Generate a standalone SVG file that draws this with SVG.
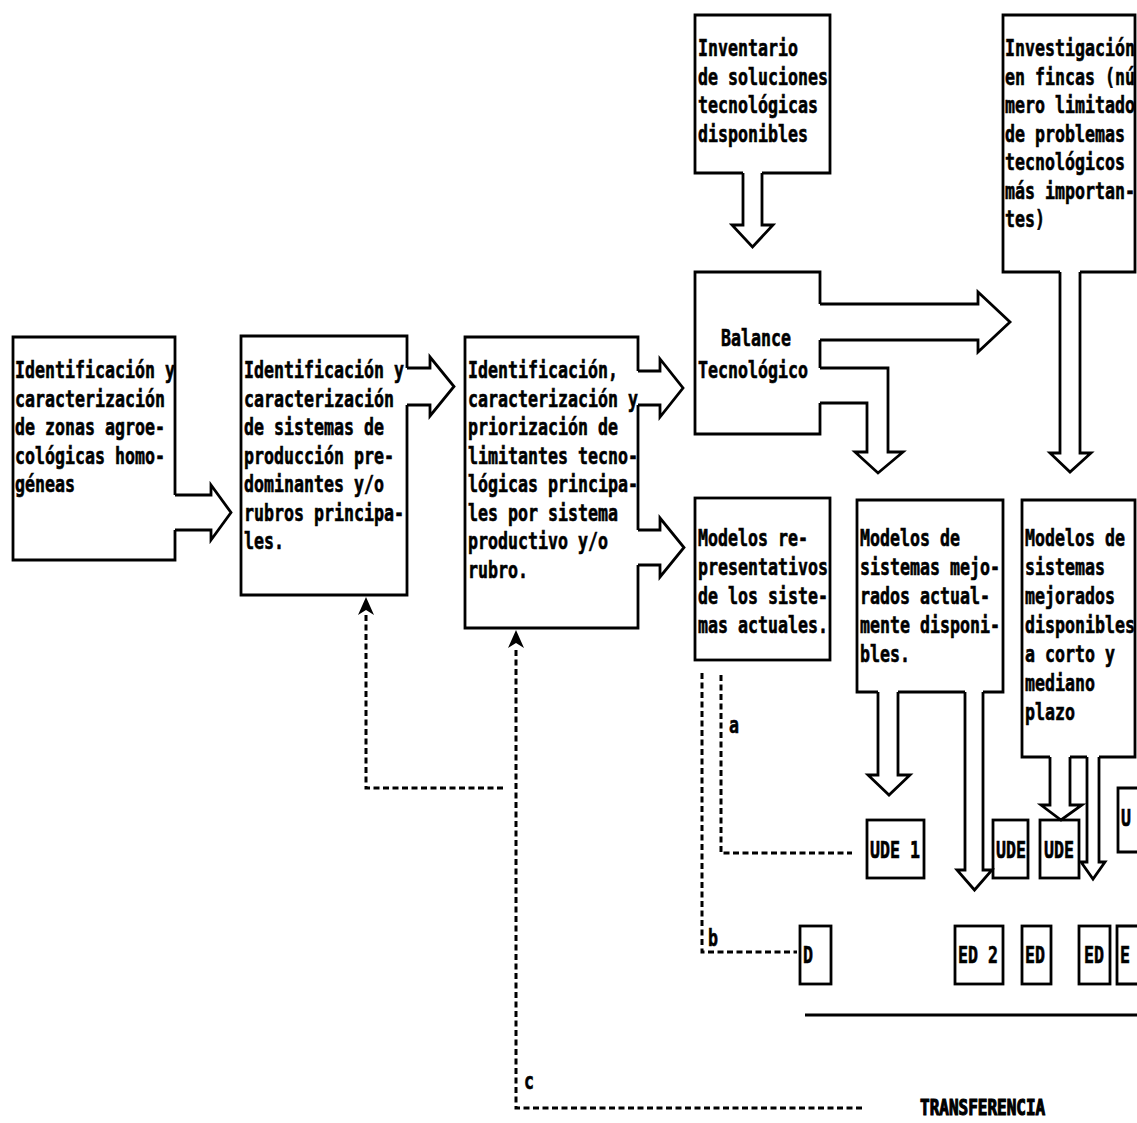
<svg xmlns="http://www.w3.org/2000/svg" width="1137" height="1123" viewBox="0 0 1137 1123">
  <style>
    .box { fill: none; stroke: #000; stroke-width: 2.8; stroke-linejoin: miter; }
    .blk { fill: none; stroke: #000; stroke-width: 2.8; stroke-linejoin: miter; }
    .dash { fill: none; stroke: #000; stroke-width: 3; stroke-dasharray: 6 3.5; }
    .rule { fill: none; stroke: #000; stroke-width: 3; }
    .tip { fill: #000; stroke: none; }
    /* tall, narrow printer-style lettering: 10px per character, stretched upward from the baseline */
    text {
      font-family: "DejaVu Sans Mono", "Liberation Mono", monospace;
      font-weight: bold; font-size: 16.6px; fill: #000;
      stroke: #000; stroke-width: 0.45;
      transform-box: fill-box; transform-origin: 0 76%; transform: scaleY(1.35);
    }
    .cap { font-size: 16px; stroke-width: 0.9; }
  </style>
  <rect width="1137" height="1123" fill="#fff"/>

  <!-- zonas agroecológicas -->
  <g id="zonas">
    <path class="box" d="M175,495 V337 H13 V560 H175 V530"/>
    <text x="15" y="378">Identificación y</text>
    <text x="15" y="406.5">caracterización</text>
    <text x="15" y="435">de zonas agroe-</text>
    <text x="15" y="463.5">cológicas homo-</text>
    <text x="15" y="492">géneas</text>
  </g>

  <!-- sistemas de producción -->
  <g id="sistemas">
    <path class="box" d="M407,368 V336 H241 V595 H407 V405"/>
    <text x="244" y="378">Identificación y</text>
    <text x="244" y="406.5">caracterización</text>
    <text x="244" y="435">de sistemas de</text>
    <text x="244" y="463.5">producción pre-</text>
    <text x="244" y="492">dominantes y/o</text>
    <text x="244" y="520.5">rubros principa-</text>
    <text x="244" y="549">les.</text>
  </g>

  <!-- limitantes tecnológicas -->
  <g id="limitantes">
    <path class="box" d="M638,371 V337 H465 V628 H638 V565 M638,405 V530"/>
    <text x="468" y="378">Identificación,</text>
    <text x="468" y="406.5">caracterización y</text>
    <text x="468" y="435">priorización de</text>
    <text x="468" y="463.5">limitantes tecno-</text>
    <text x="468" y="492">lógicas principa-</text>
    <text x="468" y="520.5">les por sistema</text>
    <text x="468" y="549">productivo y/o</text>
    <text x="468" y="577.5">rubro.</text>
  </g>

  <!-- inventario de soluciones -->
  <g id="inventario">
    <path class="box" d="M743,173 H695 V15 H830 V173 H762"/>
    <text x="698" y="56">Inventario</text>
    <text x="698" y="84.5">de soluciones</text>
    <text x="698" y="113">tecnológicas</text>
    <text x="698" y="141.5">disponibles</text>
  </g>

  <!-- investigación en fincas -->
  <g id="investigacion">
    <path class="box" d="M1060,272 H1003 V15 H1135 V272 H1080"/>
    <text x="1005" y="56">Investigación</text>
    <text x="1005" y="84.5">en fincas (nú</text>
    <text x="1005" y="113">mero limitado</text>
    <text x="1005" y="141.5">de problemas</text>
    <text x="1005" y="170">tecnológicos</text>
    <text x="1005" y="198.5">más importan-</text>
    <text x="1005" y="227">tes)</text>
  </g>

  <!-- balance tecnológico -->
  <g id="balance">
    <path class="box" d="M820,304 V272 H695 V434 H820 V403 M820,340 V368"/>
    <text x="721" y="346">Balance</text>
    <text x="698" y="378">Tecnológico</text>
  </g>

  <!-- modelos representativos -->
  <g id="modelos-actuales">
    <rect class="box" x="695" y="498" width="135" height="162"/>
    <text x="698" y="546">Modelos re-</text>
    <text x="698" y="575">presentativos</text>
    <text x="698" y="604">de los siste-</text>
    <text x="698" y="633">mas actuales.</text>
  </g>

  <!-- modelos mejorados disponibles -->
  <g id="modelos-disponibles">
    <path class="box" d="M878,692 H857 V500 H1003 V692 H983 M898,692 H965"/>
    <text x="860" y="546">Modelos de</text>
    <text x="860" y="575">sistemas mejo-</text>
    <text x="860" y="604">rados actual-</text>
    <text x="860" y="633">mente disponi-</text>
    <text x="860" y="662">bles.</text>
  </g>

  <!-- modelos mejorados a corto y mediano plazo -->
  <g id="modelos-plazo">
    <path class="box" d="M1050,757 H1022 V500 H1135 V757 H1099 M1070,757 H1087"/>
    <text x="1025" y="546">Modelos de</text>
    <text x="1025" y="575">sistemas</text>
    <text x="1025" y="604">mejorados</text>
    <text x="1025" y="633">disponibles</text>
    <text x="1025" y="662">a corto y</text>
    <text x="1025" y="691">mediano</text>
    <text x="1025" y="720">plazo</text>
  </g>

  <!-- UDE row -->
  <g id="ude-1">
    <rect class="box" x="867" y="820" width="57" height="58"/>
    <text x="870" y="858">UDE 1</text>
  </g>
  <g id="ude-2">
    <rect class="box" x="993" y="820" width="35" height="58"/>
    <text x="996" y="858">UDE</text>
  </g>
  <g id="ude-3">
    <rect class="box" x="1040" y="820" width="39" height="58"/>
    <text x="1044" y="858">UDE</text>
  </g>
  <g id="ude-4">
    <path class="box" d="M1140,788 H1118 V852 H1140"/>
    <text x="1121" y="826">U</text>
  </g>

  <!-- ED row -->
  <g id="ed-1">
    <rect class="box" x="800" y="926" width="31" height="58"/>
    <text x="803" y="963">D</text>
  </g>
  <g id="ed-2">
    <rect class="box" x="955" y="926" width="48" height="58"/>
    <text x="958" y="963">ED 2</text>
  </g>
  <g id="ed-3">
    <rect class="box" x="1022" y="926" width="29" height="58"/>
    <text x="1025" y="963">ED</text>
  </g>
  <g id="ed-4">
    <rect class="box" x="1079" y="926" width="31" height="58"/>
    <text x="1084" y="963">ED</text>
  </g>
  <g id="ed-5">
    <path class="box" d="M1140,926 H1117 V984 H1140"/>
    <text x="1120" y="963">E</text>
  </g>

  <!-- transfer baseline and caption -->
  <g id="transferencia">
    <path class="rule" d="M805,1015 H1137"/>
    <text class="cap" x="920" y="1115">TRANSFERENCIA</text>
  </g>

  <!-- block arrows and feedback lines -->
  <g id="connectors">
    <path class="blk" d="M175,495 H211 V485 L231,512.5 L211,540 V530 H175"/>
    <path class="blk" d="M407,368 H430 V357 L454,386.5 L430,416 V405 H407"/>
    <path class="blk" d="M638,371 H660 V359 L683,388 L660,417 V405 H638"/>
    <path class="blk" d="M638,530 H660 V518 L684,547.5 L660,577 V565 H638"/>
    <path class="blk" d="M743,173 V225 H732 L752.5,247 L773,225 H762 V173"/>
    <path class="blk" d="M1060,272 V453 H1050 L1070,472 L1091,453 H1080 V272"/>
    <path class="blk" d="M820,304 H978 V292 L1010,322 L978,352 V340 H820"/>
    <path class="blk" d="M820,368 H888 V452 H903 L878,473 L855,452 H867 V403 H820"/>
    <path class="blk" d="M878,692 V775 H868 L889,795 L910,775 H898 V692"/>
    <path class="blk" d="M965,692 V870 H957 L974.5,890 L992,870 H983 V692"/>
    <path class="blk" d="M1050,757 V805 H1041 L1061,820 L1082,805 H1070 V757"/>
    <path class="blk" d="M1087,757 V862 H1081 L1093,879 L1105,862 H1099 V757"/>

    <!-- feedback to sistemas -->
    <path class="dash" d="M503,788 H366 V614"/>
    <path class="tip" d="M366,597 L374,615 L366,610 L358,615 Z"/>
    <!-- feedback c to limitantes -->
    <path class="dash" d="M862,1108 H516 V648"/>
    <path class="tip" d="M516,630 L524,648 L516,643 L508,648 Z"/>
    <text x="524" y="1089">c</text>
    <!-- line a -->
    <path class="dash" d="M721,675 V853 H852"/>
    <text x="729" y="733">a</text>
    <!-- line b -->
    <path class="dash" d="M702,673 V952 H797"/>
    <text x="708" y="946">b</text>
  </g>
</svg>
